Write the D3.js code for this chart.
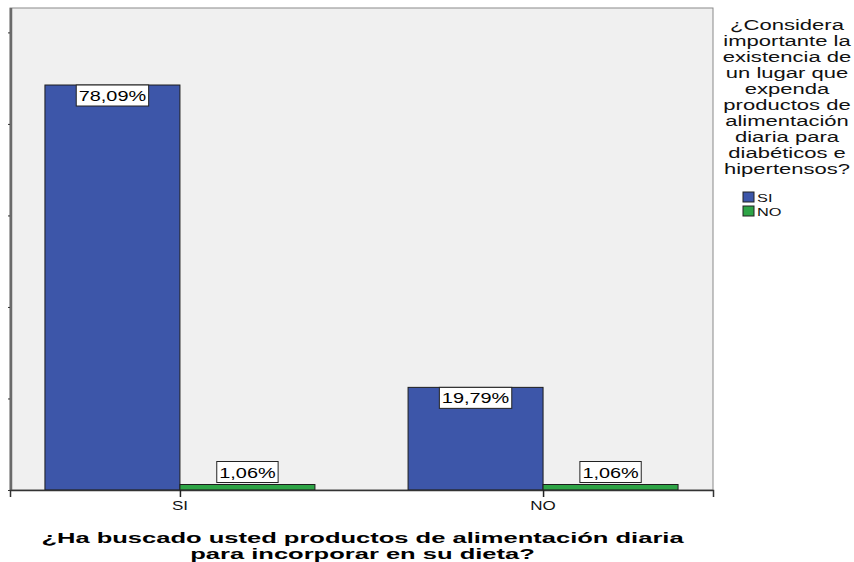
<!DOCTYPE html>
<html>
<head>
<meta charset="utf-8">
<script src="https://cdn.jsdelivr.net/npm/d3@7"></script>
<style>
  html, body { margin: 0; padding: 0; background: #ffffff; }
  svg { display: block; font-family: "Liberation Sans", Arial, sans-serif; }
</style>
</head>
<body>
<svg id="chart" width="854" height="562"></svg>
<script>
// Categories on the x axis (answer to the first question)
const categories = ["SI", "NO"];
// Legend groups (answer to the second question)
const groups = ["SI", "NO"];
// Percentages of all respondents, per category, per group
const valuesSI = [78.09, 19.79];
const valuesNO = [1.06, 1.06];
// Total respondents, used to place y ticks at whole-count steps
const totalN = 187;
const yTickCounts = [0, 33, 66, 99, 132, 165];

const xTitleLines = ["¿Ha buscado usted productos de alimentación diaria", "para incorporar en su dieta?"];
const legendTitleLines = ["¿Considera", "importante la", "existencia de", "un lugar que", "expenda",
  "productos de", "alimentación", "diaria para", "diabéticos e", "hipertensos?"];

const colors = { SI: "#3d56a9", NO: "#2ea446" };
const sx = 1.42;      // horizontal stretch of value and axis labels
const sxLegend = 1.52;
const sxTitle = 1.76;

const svg = d3.select("#chart");
const plot = { left: 10, top: 8, right: 713, bottom: 490 };

const data = categories.map((c, i) => ({ cat: c, vals: [
  { g: "SI", v: valuesSI[i] }, { g: "NO", v: valuesNO[i] }
]}));

const x = d3.scalePoint().domain(categories).range([plot.left, plot.right]).padding(0.468);
const barW = 135;
const xg = d3.scaleBand().domain(groups).range([-barW, barW]).padding(0);
const y = d3.scaleLinear().domain([0, 92.94]).range([plot.bottom, plot.top]);

// plot background
svg.append("rect")
  .attr("x", plot.left).attr("y", plot.top)
  .attr("width", plot.right - plot.left).attr("height", plot.bottom - plot.top)
  .attr("fill", "#f0f0f0").attr("stroke", "#8a8a8a").attr("stroke-width", 1);
// darker left edge of the frame
svg.append("line").attr("x1", plot.left + 1).attr("x2", plot.left + 1)
  .attr("y1", plot.top).attr("y2", plot.bottom)
  .attr("stroke", "#6a6a6a").attr("stroke-width", 2.5);

// y axis ticks (labels not shown)
const yAxis = d3.axisLeft(y)
  .tickValues(yTickCounts.map(c => c / totalN * 100))
  .tickSize(2).tickFormat("");
svg.append("g").attr("transform", `translate(${plot.left},0)`).call(yAxis)
  .call(g => g.select(".domain").remove())
  .call(g => g.selectAll("line").attr("stroke", "#333"));

// bars
const gCat = svg.selectAll("g.cat").data(data).enter().append("g")
  .attr("class", "cat").attr("transform", d => `translate(${x(d.cat)},0)`);

gCat.selectAll("rect").data(d => d.vals).enter().append("rect")
  .attr("x", d => xg(d.g)).attr("width", xg.bandwidth())
  .attr("y", d => y(d.v)).attr("height", d => y(0) - y(d.v))
  .attr("fill", d => colors[d.g]).attr("stroke", "#1d1d1d").attr("stroke-width", 1);

// value labels: boxed, inside the bar top when it fits, otherwise just above
const fmt = v => d3.format(".2f")(v).replace(".", ",") + "%";
const labelH = 21;
gCat.selectAll("g.lab").data(d => d.vals).enter().append("g")
  .attr("class", "lab")
  .each(function(d) {
    const g = d3.select(this);
    const cx = xg(d.g) + xg.bandwidth() / 2;
    const fits = (y(0) - y(d.v)) > labelH + 4;
    const top = fits ? y(d.v) : y(d.v) - labelH - 2;
    const t = g.append("text")
      .attr("transform", `translate(${cx},${top + 16}) scale(${sx},1)`)
      .attr("text-anchor", "middle").attr("font-size", 14).attr("fill", "#000")
      .text(fmt(d.v));
    const w = t.node().getComputedTextLength() * sx + 5;
    g.insert("rect", "text")
      .attr("x", cx - w / 2).attr("y", top).attr("width", w).attr("height", labelH)
      .attr("fill", "#fff").attr("stroke", "#222").attr("stroke-width", 1);
  });

// x axis
const xAxis = d3.axisBottom(x).tickSize(7).tickFormat("");
svg.append("g").attr("transform", `translate(0,${plot.bottom})`).call(xAxis)
  .call(g => g.select(".domain").attr("stroke", "#333").attr("stroke-width", 1.5))
  .call(g => g.selectAll("line").attr("stroke", "#222").attr("stroke-width", 1.5));
svg.selectAll("text.xlab").data(categories).enter().append("text")
  .attr("class", "xlab")
  .attr("transform", d => `translate(${x(d)},${510}) scale(${sx},1)`)
  .attr("text-anchor", "middle").attr("font-size", 12).attr("fill", "#111")
  .text(d => d);

// x axis title
const cxTitle = (plot.left + plot.right) / 2 + 1;
svg.selectAll("text.xtitle").data(xTitleLines).enter().append("text")
  .attr("class", "xtitle")
  .attr("transform", (d, i) => `translate(${cxTitle},${543 + i * 16}) scale(${sxTitle},1)`)
  .attr("text-anchor", "middle").attr("font-size", 14.5).attr("font-weight", "bold")
  .attr("fill", "#000").text(d => d);

// legend
const legX = 787;
svg.selectAll("text.ltitle").data(legendTitleLines).enter().append("text")
  .attr("class", "ltitle")
  .attr("transform", (d, i) => `translate(${legX},${30 + i * 16}) scale(${sxLegend},1)`)
  .attr("text-anchor", "middle").attr("font-size", 14.5).attr("fill", "#111")
  .text(d => d);

const leg = svg.selectAll("g.leg").data(groups).enter().append("g")
  .attr("class", "leg").attr("transform", (d, i) => `translate(743,${192 + i * 14})`);
leg.append("rect").attr("width", 11).attr("height", 10)
  .attr("fill", d => colors[d]).attr("stroke", "#222").attr("stroke-width", 1);
leg.append("text").attr("transform", `translate(14,10) scale(${sx},1)`)
  .attr("font-size", 11.5).attr("fill", "#111").text(d => d);
</script>
</body>
</html>
